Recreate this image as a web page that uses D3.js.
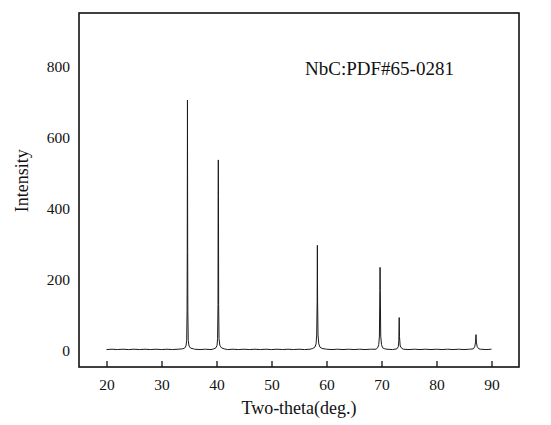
<!DOCTYPE html>
<html>
<head>
<meta charset="utf-8">
<script src="https://cdn.jsdelivr.net/npm/d3@7"></script>
<style>
  body { margin: 0; background: #fff; }
  svg text { font-family: "Liberation Serif", "Times New Roman", Tinos, "DejaVu Serif", "Noto Serif", serif; fill: #111; }
</style>
</head>
<body>
<div id="chart-area"></div>
<script>
// XRD pattern: [two-theta, intensity]
const pattern = [
    [20, 4], [21, 5], [22, 4], [23, 5], [24, 4], [25, 5], [26, 4], [27, 5], [28, 4], [29, 5],
    [30, 4], [31, 5], [32, 4], [33, 5], [33.8, 6],
    [34.2, 8], [34.45, 14], [34.58, 30], [34.65, 112], [34.68, 280], [34.72, 705], [34.76, 280],
    [34.79, 112], [34.86, 30], [35.0, 14], [35.3, 8], [35.8, 6],
    [36, 5], [37, 4], [38, 5], [39, 4], [39.5, 6],
    [39.9, 9], [40.1, 16], [40.2, 35], [40.27, 130], [40.3, 435], [40.33, 537], [40.36, 435],
    [40.39, 130], [40.46, 35], [40.6, 16], [40.9, 9], [41.4, 6],
    [42, 4], [43, 5], [44, 4], [45, 5], [46, 4], [47, 5], [48, 4], [49, 5], [50, 4], [51, 5],
    [52, 4], [53, 5], [54, 4], [55, 5], [56, 4], [57, 5], [57.5, 7],
    [57.9, 11], [58.1, 20], [58.22, 45], [58.3, 140], [58.34, 297], [58.38, 140], [58.46, 45],
    [58.6, 20], [58.8, 11], [59.2, 7],
    [60, 5], [61, 4], [62, 5], [63, 4], [64, 5], [65, 4], [66, 5], [67, 4], [68, 5], [69, 5],
    [69.3, 9], [69.5, 18], [69.62, 42], [69.7, 170], [69.74, 235], [69.78, 170], [69.86, 42],
    [70.0, 18], [70.2, 9], [70.6, 6],
    [71, 5], [72, 4], [72.8, 6],
    [73.05, 12], [73.15, 28], [73.22, 94], [73.27, 40], [73.4, 14], [73.7, 7],
    [74, 5], [75, 4], [76, 5], [77, 4], [78, 5], [79, 4], [80, 5], [81, 4], [82, 5], [83, 4],
    [84, 5], [85, 4], [86, 5], [86.7, 6],
    [86.95, 12], [87.1, 25], [87.18, 46], [87.25, 25], [87.4, 12], [87.7, 6],
    [88, 5], [89, 4], [90, 5]
];

const xTicks = [20, 30, 40, 50, 60, 70, 80, 90];
const yTicks = [0, 200, 400, 600, 800];
const xDomain = [15, 95];
const yDomain = [-45, 950];
const note = "NbC:PDF#65-0281";

const serif = "'Liberation Serif', 'Times New Roman', Tinos, 'DejaVu Serif', 'Noto Serif', serif";

const width = 551;
const height = 425;
const margin = { top: 13, right: 32, bottom: 58, left: 79 };
const innerW = width - margin.left - margin.right;
const innerH = height - margin.top - margin.bottom;

const svg = d3.select("#chart-area")
    .append("svg")
    .attr("width", width)
    .attr("height", height);

const g = svg.append("g")
    .attr("transform", `translate(${margin.left},${margin.top})`);

// Escalas
const x = d3.scaleLinear().domain(xDomain).range([0, innerW]);
const y = d3.scaleLinear().domain(yDomain).range([innerH, 0]);

// Eje X (ticks hacia dentro)
const bottomAxis = d3.axisBottom(x)
    .tickValues(xTicks)
    .tickSize(-6)
    .tickPadding(12)
    .tickFormat(d3.format("d"));

const xg = g.append("g")
    .attr("transform", `translate(0,${innerH})`)
    .call(bottomAxis)
    .attr("font-family", null);
xg.select(".domain").remove();
xg.selectAll(".tick line").attr("stroke", "#111").attr("stroke-width", 1.3);
xg.selectAll(".tick text")
    .style("font-family", serif)
    .style("font-size", "15.5px")
    .style("fill", "#111");

// Eje Y (solo etiquetas)
const leftAxis = d3.axisLeft(y)
    .tickValues(yTicks)
    .tickSize(0)
    .tickPadding(9)
    .tickFormat(d3.format("d"));

const yg = g.append("g").call(leftAxis).attr("font-family", null);
yg.select(".domain").remove();
yg.selectAll(".tick text")
    .style("font-family", serif)
    .style("font-size", "15.5px")
    .style("fill", "#111");

// Curva
const line = d3.line()
    .x(d => x(d[0]))
    .y(d => y(d[1]));

g.append("path")
    .datum(pattern)
    .attr("fill", "none")
    .attr("stroke", "#1a1a1a")
    .attr("stroke-width", 1)
    .attr("stroke-linejoin", "round")
    .attr("d", line);

// Marco
g.append("rect")
    .attr("x", 0)
    .attr("y", 0)
    .attr("width", innerW)
    .attr("height", innerH)
    .attr("fill", "none")
    .attr("stroke", "#111")
    .attr("stroke-width", 1.6);

// Anotación
g.append("text")
    .attr("x", x(56.1))
    .attr("y", y(775))
    .style("font-family", serif)
    .style("font-size", "19px")
    .text(note);

// Etiquetas de ejes
g.append("text")
    .attr("x", x(55))
    .attr("y", innerH + 47)
    .attr("text-anchor", "middle")
    .style("font-family", serif)
    .style("font-size", "18px")
    .text("Two-theta(deg.)");

g.append("text")
    .attr("transform", "rotate(-90)")
    .attr("x", -(y(400) - 28))
    .attr("y", -51)
    .attr("text-anchor", "middle")
    .style("font-family", serif)
    .style("font-size", "18px")
    .text("Intensity");
</script>
</body>
</html>
